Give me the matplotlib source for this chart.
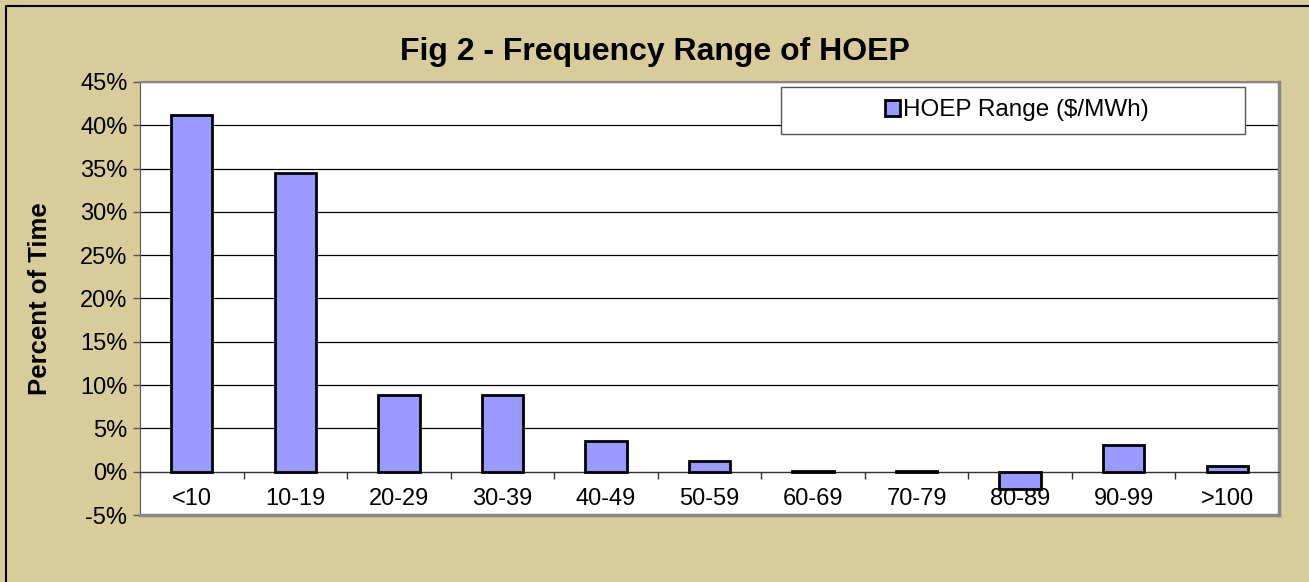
import matplotlib
matplotlib.use("Agg")
import matplotlib.pyplot as plt
import numpy as np
from matplotlib.patches import Rectangle
from matplotlib.lines import Line2D
from matplotlib.ticker import FixedLocator, PercentFormatter

categories = ["<10", "10-19", "20-29", "30-39", "40-49", "50-59", "60-69", "70-79", "80-89", "90-99", ">100"]
values = [41.2, 34.5, 8.9, 8.8, 3.5, 1.2, 0.1, 0.1, -2.0, 3.1, 0.7]
series_name = "HOEP Range ($/MWh)"
yticks = [-5, 0, 5, 10, 15, 20, 25, 30, 35, 40, 45]

plt.rcParams['font.family'] = ['Liberation Sans', 'DejaVu Sans']
plt.rcParams['axes.unicode_minus'] = False

bg = "#D8CC9A"
W, H = 1309, 582
fig = plt.figure(figsize=(W/100, H/100), dpi=100, facecolor=bg)
# outer chart border (only top and left visible in the reference)
fig.lines.append(Line2D([6/W, 6/W, 1.0], [0.0, 1-5.5/H, 1-5.5/H], transform=fig.transFigure,
                        color='black', linewidth=1.5))

ax_l, ax_r, ax_t, ax_b = 140, 1279, 82, 515
ax = fig.add_axes([ax_l/W, 1-ax_b/H, (ax_r-ax_l)/W, (ax_b-ax_t)/H])
ax.set_facecolor("white")
x = np.arange(len(categories))
ax.bar(x, values, width=0.4, color="#9999FF", edgecolor="black", linewidth=2, zorder=3, label=series_name)

ax.set_xlim(-0.5, len(categories) - 0.5)
ax.set_ylim(-5, 45)
ax.set_yticks(yticks)
ax.yaxis.set_major_formatter(PercentFormatter(decimals=0))
ax.grid(axis='y', color='black', linewidth=0.9, zorder=1)
ax.tick_params(axis='y', labelsize=17, length=5, width=1, color='#555555', pad=4)

ax.set_xticks(x)
ax.set_xticklabels(categories)
ax.xaxis.set_minor_locator(FixedLocator(np.arange(len(categories) + 1) - 0.5))
ax.tick_params(axis='x', which='major', length=0, labelsize=17, pad=12)
ax.tick_params(axis='x', which='minor', length=5, width=1, color='#333333')

ax.spines['bottom'].set_position(('data', 0))
ax.spines['bottom'].set_color('#333333')
ax.spines['left'].set_color('#555555')
ax.spines['top'].set_color('#888888')
ax.spines['top'].set_linewidth(1.5)
ax.spines['right'].set_color('#888888')
ax.spines['right'].set_linewidth(2.5)
ax.plot([0, 1], [0, 0], transform=ax.transAxes, color='#888888', linewidth=2.5, clip_on=False, zorder=5)

ax.set_ylabel("Percent of Time", fontsize=18.5, fontweight='bold', labelpad=20)
fig.text(655/W, 1-52/H, "Fig 2 - Frequency Range of HOEP", ha='center', va='center',
         fontsize=23, fontweight='bold')

# legend box
lx0, lx1, ly0, ly1 = 781, 1245, 87, 134
def to_ax(px, py):
    return (px - ax_l) / (ax_r - ax_l), (ax_b - py) / (ax_b - ax_t)
bx0, by1 = to_ax(lx0, ly1)
bx1, by0 = to_ax(lx1, ly0)
ax.add_patch(Rectangle((bx0, by1), bx1 - bx0, by0 - by1, transform=ax.transAxes,
                       facecolor='white', edgecolor='#555555', linewidth=1, zorder=6, clip_on=False))
cx, cy = to_ax((lx0 + lx1) / 2 + 4, (ly0 + ly1) / 2)
leg = ax.legend(loc='center', bbox_to_anchor=(cx, cy), fontsize=17.5,
                frameon=False, handlelength=0.6, handleheight=0.6, handletextpad=0.15,
                borderpad=0, borderaxespad=0)
leg.set_zorder(7)

fig.savefig("out.png", dpi=100, facecolor=bg)
